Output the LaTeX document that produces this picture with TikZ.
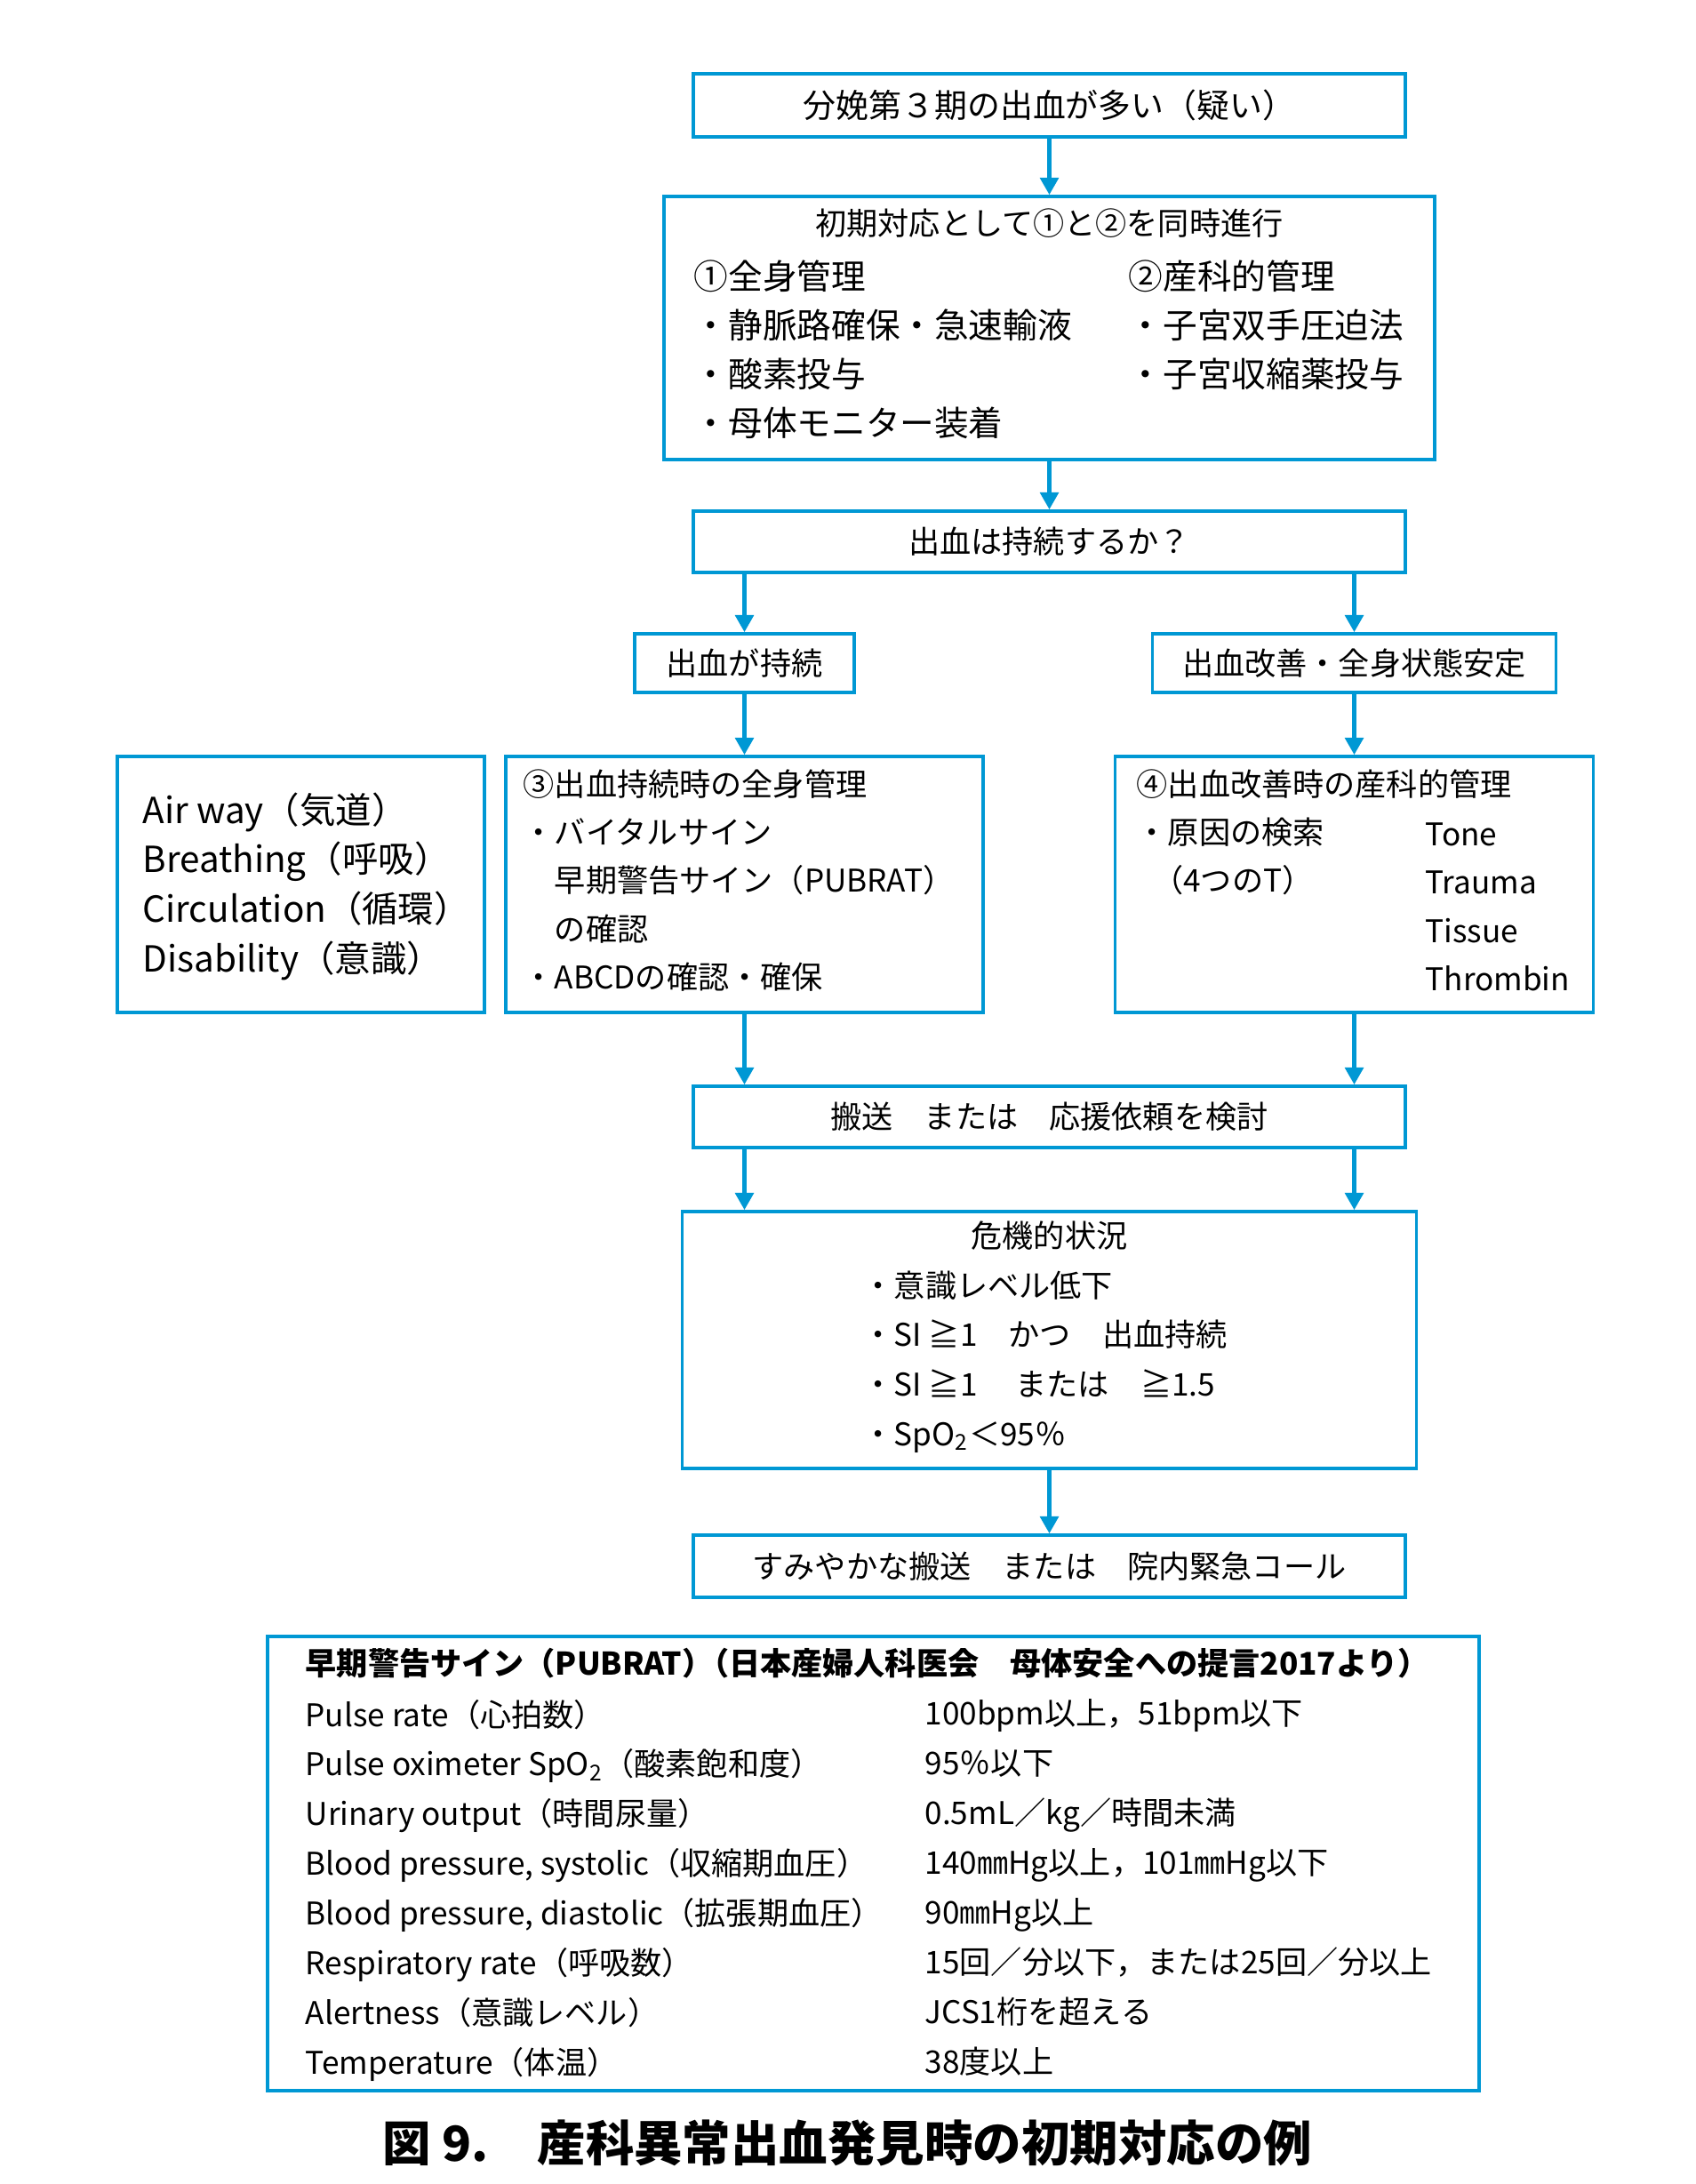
\documentclass[tikz,border=0pt]{standalone}
\usepackage{fontspec}
\setmainfont{Noto Sans CJK JP}
\usetikzlibrary{arrows.meta}
\definecolor{lineblue}{RGB}{0,152,212}

\begin{document}
\begin{tikzpicture}[
    box/.style={draw=lineblue, line width=1pt, inner sep=0pt},
    arr/.style={draw=lineblue, line width=1.35pt, -{Triangle[length=5.5pt, width=5.8pt]}},
    txt/.style={inner sep=0pt, text height=0.83em, text depth=0.07em},
    col/.style={inner sep=0pt, anchor=north west, align=left}
]
    \useasboundingbox (0,0) rectangle (19.07,-24.57);

    % flow boxes
    \node[box, minimum width=8.01cm, minimum height=0.71cm, font=\fontsize{10.5}{12}\selectfont] (start) at (11.805,-1.185) {分娩第３期の出血が多い（疑い）};
    \node[box, minimum width=8.67cm, minimum height=2.96cm] (init) at (11.805,-3.69) {};
    \node[box, minimum width=8.01cm, minimum height=0.69cm, font=\fontsize{10}{12}\selectfont] (cont) at (11.805,-6.095) {出血は持続するか？};
    \node[box, minimum width=2.47cm, minimum height=0.66cm, font=\fontsize{10}{12}\selectfont] (yes) at (8.375,-7.46) {出血が持続};
    \node[box, minimum width=4.54cm, minimum height=0.66cm, font=\fontsize{10}{12}\selectfont] (no) at (15.235,-7.46) {出血改善・全身状態安定};
    \node[box, minimum width=4.13cm, minimum height=2.88cm] (abcd) at (3.385,-9.95) {};
    \node[box, minimum width=5.37cm, minimum height=2.88cm] (sys) at (8.375,-9.95) {};
    \node[box, minimum width=5.38cm, minimum height=2.88cm] (obs) at (15.235,-9.95) {};
    \node[box, minimum width=8.01cm, minimum height=0.69cm, font=\fontsize{10}{12}\selectfont] (trans) at (11.805,-12.565) {搬送　または　応援依頼を検討};
    \node[box, minimum width=8.26cm, minimum height=2.89cm] (crisis) at (11.805,-15.075) {};
    \node[box, minimum width=8.01cm, minimum height=0.70cm, font=\fontsize{10}{12}\selectfont] (call) at (11.805,-17.62) {すみやかな搬送　または　院内緊急コール};
    \node[box, minimum width=13.63cm, minimum height=5.11cm, line width=1.2pt] (pubrat) at (9.825,-20.965) {};

    % texts in the boxes
    \node[txt, font=\fontsize{10}{12}\selectfont] (initHead) at (11.805,-2.51) {初期対応として①と②を同時進行};
    \node[col, font=\fontsize{11}{15.7}\selectfont] (initL) at (7.80,-2.916) {①全身管理\\・静脈路確保・急速輸液\\・酸素投与\\・母体モニター装着};
    \node[col, font=\fontsize{11}{15.7}\selectfont] (initR) at (12.69,-2.916) {②産科的管理\\・子宮双手圧迫法\\・子宮収縮薬投与};
    \node[col, font=\fontsize{11.5}{15.9}\selectfont] (abcdText) at (1.60,-8.908) {Air way（気道）\\Breathing（呼吸）\\Circulation（循環）\\Disability（意識）};
    \node[col, font=\fontsize{10}{15.4}\selectfont] (sysText) at (5.88,-8.652) {③出血持続時の全身管理\\・バイタルサイン\\　早期警告サイン（PUBRAT）\\　の確認\\・ABCDの確認・確保};
    \node[col, font=\fontsize{10}{15.4}\selectfont] (obsText) at (12.78,-8.652) {④出血改善時の産科的管理\\・原因の検索\\\hspace{0.5em}（4つのT）};
    \node[col, font=\fontsize{10}{15.4}\selectfont] (obsT) at (16.03,-9.254) {Tone\\Trauma\\Tissue\\Thrombin};
    \node[txt, font=\fontsize{10}{12}\selectfont] (crisisHead) at (11.805,-13.90) {危機的状況};
    \node[col, font=\fontsize{10}{15.8}\selectfont] (crisisText) at (9.70,-14.292) {・意識レベル低下\\・SI ≧1　かつ　出血持続\\・SI ≧1　 または　≧1.5\\・SpO\textsubscript{2}＜95％};

    % PUBRAT table
    \node[txt, anchor=west, font=\bfseries\fontsize{10}{12}\selectfont] (pubratHead) at (3.43,-18.71) {早期警告サイン（PUBRAT）\kern-0.5em（日本産婦人科医会　母体安全への提言2017より）};
    \node[col, font=\fontsize{10}{15.9}\selectfont] (pubratL) at (3.43,-19.112) {Pulse rate（心拍数）\\Pulse oximeter SpO\textsubscript{2}（酸素飽和度）\\Urinary output（時間尿量）\\Blood pressure, systolic（収縮期血圧）\\Blood pressure, diastolic（拡張期血圧）\\Respiratory rate（呼吸数）\\Alertness（意識レベル）\\Temperature（体温）};
    \node[col, font=\fontsize{10}{15.9}\selectfont] (pubratR) at (10.40,-19.112) {100bpm以上，51bpm以下\\95％以下\\0.5mL／kg／時間未満\\140㎜Hg以上，101㎜Hg以下\\90㎜Hg以上\\15回／分以下，または25回／分以上\\JCS1桁を超える\\38度以上};

    \node[txt, font=\bfseries\fontsize{15.5}{18}\selectfont] (caption) at (9.535,-24.18) {図 9.　産科異常出血発見時の初期対応の例};

    % arrows
    \draw[arr] (start) -- (init);
    \draw[arr] (init) -- (cont);
    \draw[arr] (cont.south -| yes) -- (yes);
    \draw[arr] (cont.south -| no) -- (no);
    \draw[arr] (yes) -- (sys);
    \draw[arr] (no) -- (obs);
    \draw[arr] (sys) -- (sys |- trans.north);
    \draw[arr] (obs) -- (obs |- trans.north);
    \draw[arr] (trans.south -| sys) -- (crisis.north -| sys);
    \draw[arr] (trans.south -| obs) -- (crisis.north -| obs);
    \draw[arr] (crisis) -- (call);
\end{tikzpicture}
\end{document}
